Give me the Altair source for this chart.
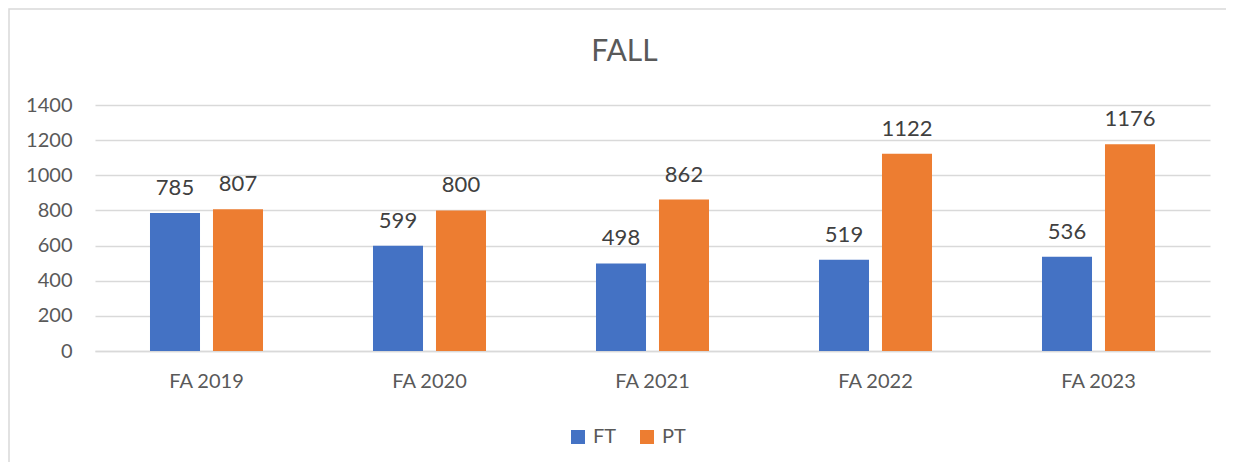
import altair as alt
import pandas as pd

categories = ["FA 2019", "FA 2020", "FA 2021", "FA 2022", "FA 2023"]
ft_values = [785, 599, 498, 519, 536]
pt_values = [807, 800, 862, 1122, 1176]
series = ["FT", "PT"]
colors = ["#4472C4", "#ED7D31"]
y_ticks = [0, 200, 400, 600, 800, 1000, 1200, 1400]

rows = []
for i, c in enumerate(categories):
    rows.append({"cat": c, "series": "FT", "value": ft_values[i]})
    rows.append({"cat": c, "series": "PT", "value": pt_values[i]})
df = pd.DataFrame(rows)

FONT = "Lato"
GRID = "#d9d9d9"
TXT = "#595959"

x_enc = alt.X(
    "cat:N", sort=categories,
    scale=alt.Scale(paddingInner=0, paddingOuter=0),
    axis=alt.Axis(title=None, labelAngle=0, labelFontSize=20, labelColor=TXT,
                  labelFont=FONT, labelPadding=20, ticks=False, domain=True,
                  domainColor=GRID, domainWidth=1.5, grid=False),
)
xoff_enc = alt.XOffset("series:N", sort=series,
                       scale=alt.Scale(paddingInner=0.206, paddingOuter=0.873))
y_enc = alt.Y(
    "value:Q",
    scale=alt.Scale(domain=[0, 1400], nice=False),
    axis=alt.Axis(title=None, values=y_ticks, tickCount=8, format="d",
                  labelOverlap=False,
                  labelFontSize=20, labelColor=TXT,
                  labelFont=FONT, labelPadding=23, grid=True, gridColor=GRID,
                  gridWidth=1.5, domain=False, ticks=False),
)
color_enc = alt.Color(
    "series:N", sort=series,
    scale=alt.Scale(domain=series, range=colors),
    legend=alt.Legend(title=None, orient="none", legendX=473, legendY=322,
                      direction="horizontal", symbolType="square",
                      symbolSize=196, symbolStrokeWidth=0, labelFontSize=20,
                      labelFont=FONT, labelColor=TXT, labelOffset=5,
                      columnPadding=20),
)

border = alt.Chart(pd.DataFrame({"a": [0]})).mark_rect(
    fillOpacity=0, stroke=GRID, strokeWidth=1.5
).encode(x=alt.value(-86), x2=alt.value(2000), y=alt.value(-96), y2=alt.value(2000))

base = alt.Chart(df).encode(x=x_enc, xOffset=xoff_enc, y=y_enc)

bars = base.mark_bar().encode(color=color_enc)

labels = base.mark_text(
    baseline="alphabetic", dy=-18, fontSize=22, font=FONT, color="#404040"
).encode(text="value:Q")

chart = alt.layer(border, bars, labels).properties(
    width=1115, height=246,
    autosize=alt.AutoSizeParams(type="none"),
    padding={"left": 87, "top": 97, "right": 16, "bottom": 111},
    title=alt.TitleParams("FALL", fontSize=30, font=FONT, color=TXT,
                          fontWeight="normal", anchor="middle", dx=-28,
                          baseline="alphabetic", offset=-83),
).configure_view(strokeWidth=0)

chart.save("out.html", embed_options={"renderer": "svg", "actions": False})
